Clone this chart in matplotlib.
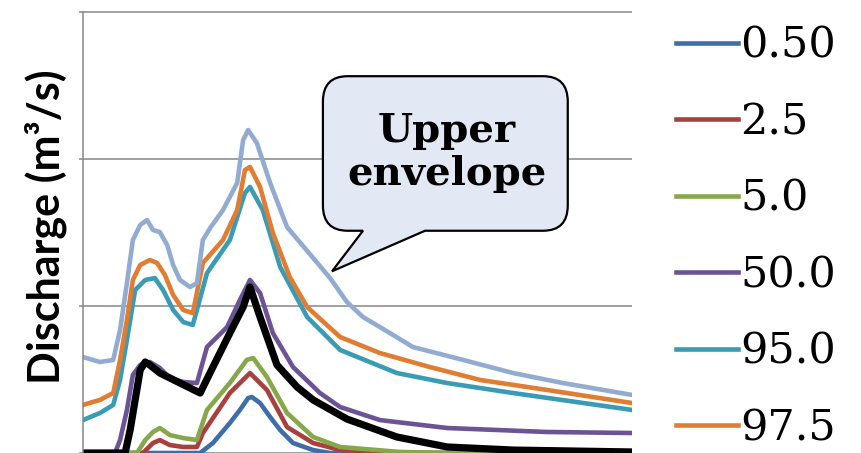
import matplotlib.pyplot as plt
from matplotlib.path import Path
from matplotlib.patches import PathPatch

# time (h) and discharge (m3/s) for each percentile of the ensemble
t_p005 = [0, 25.6, 28.4, 32.1, 34.3, 36.1, 36.9, 38.7, 40.9, 43.1, 45.9, 50.3, 54.0, 120]
q_p005 = [0, 0, 6.8, 20.4, 29.3, 37.4, 38.1, 34.0, 24.5, 15.6, 6.8, 2.0, 0, 0]

t_p025 = [0, 13.1, 15.3, 16.8, 19.0, 21.9, 24.9, 26.2, 32.1, 36.5, 40.2, 44.6, 50.3, 56.2, 64.9, 120]
q_p025 = [0, 0, 6.8, 8.8, 5.4, 4.1, 4.1, 13.6, 40.8, 54.4, 42.9, 17.7, 6.8, 2.0, 0, 0]

t_p050 = [0, 11.8, 13.6, 15.3, 16.8, 19.0, 21.9, 24.9, 27.1, 32.1, 35.8, 37.2, 40.2, 44.6, 50.3, 56.2, 69.3, 80.2, 120]
q_p050 = [0, 0, 8.8, 14.3, 17.0, 12.2, 10.2, 8.8, 29.3, 47.6, 63.3, 64.6, 51.7, 27.2, 10.9, 4.1, 0.7, 0, 0]

t_p500 = [0, 7.0, 8.1, 9.6, 10.9, 12.5, 14.6, 16.8, 19.0, 21.9, 24.9, 27.1, 31.5, 34.3, 36.5, 38.7,
          41.5, 45.9, 51.8, 56.2, 64.9, 79.6, 101.4, 120]
q_p500 = [0, 0, 8.8, 29.3, 53.1, 59.9, 61.9, 57.8, 51.0, 48.3, 47.6, 72.1, 85.7, 104.1, 117.7, 108.8,
          81.6, 58.5, 40.8, 31.3, 22.4, 17.0, 14.3, 13.6]

t_p950 = [0, 3.7, 6.6, 8.1, 9.6, 11.4, 13.6, 15.7, 17.5, 19.7, 21.9, 24.0, 27.1, 32.1, 35.4, 36.5,
          39.3, 43.1, 49.0, 56.2, 68.6, 79.6, 94.0, 120]
q_p950 = [22.4, 27.2, 32.7, 49.7, 76.9, 110.9, 117.7, 119.0, 110.9, 97.3, 89.1, 87.1, 122.4, 144.9, 176.9, 181.0,
          165.3, 126.5, 92.5, 70.1, 54.4, 47.6, 40.8, 29.3]

t_p975 = [0, 3.7, 6.6, 8.1, 9.6, 10.9, 12.5, 14.6, 16.2, 17.9, 19.7, 21.9, 24.0, 26.2, 30.6, 33.7, 35.4,
          36.5, 38.7, 41.5, 45.2, 49.0, 56.2, 64.9, 75.8, 86.8, 101.4, 120]
q_p975 = [32.7, 36.1, 40.8, 63.3, 90.5, 117.7, 127.9, 131.3, 129.3, 121.1, 107.5, 97.3, 95.2, 129.3, 144.9, 165.3, 192.5,
          194.6, 181.0, 149.7, 119.7, 99.3, 78.9, 68.0, 58.5, 49.7, 42.9, 34.0]

# upper envelope of the ensemble
t_env = [0, 3.7, 6.6, 8.1, 9.6, 10.9, 12.5, 14.0, 15.3, 16.8, 18.4, 19.7, 21.2, 23.4, 24.9, 26.2, 27.8,
         30.6, 33.7, 35.0, 36.1, 38.0, 40.9, 44.6, 50.3, 54.0, 57.7, 61.2, 64.9, 72.1, 83.1, 94.0, 104.9, 120]
q_env = [65.3, 61.9, 63.3, 83.7, 115.6, 144.9, 155.1, 158.5, 151.7, 150.3, 141.5, 127.9, 117.7, 112.9, 115.6, 144.9, 153.1,
         165.3, 183.7, 212.9, 219.7, 210.9, 183.7, 153.7, 132.7, 119.0, 102.7, 92.5, 85.7, 72.1, 63.3, 54.4, 47.6, 39.5]

# observed hydrograph
t_obs = [0, 9.2, 10.3, 12.5, 13.6, 14.6, 16.8, 21.2, 25.6, 28.4, 32.1, 35.0, 36.5, 38.7, 42.4, 46.8,
         50.3, 57.7, 68.6, 79.6, 94.0, 120]
q_obs = [0, 0, 15.6, 56.5, 61.9, 59.9, 54.4, 47.6, 40.8, 58.5, 81.6, 99.3, 112.9, 92.5, 59.9, 44.9,
         36.1, 23.1, 10.9, 4.1, 2.0, 0.7]

labels = ['0.50', '2.5', '5.0', '50.0', '95.0', '97.5']
colors = ['#3F6DAA', '#A8403E', '#86A84A', '#6B5396', '#3A9BB5', '#E07D33']
env_color = '#92ABD0'

fig = plt.figure(figsize=(8.61, 4.53), dpi=100)
ax = fig.add_axes([83 / 861, 0.0, 549 / 861, 445.4 / 453])

series = [(t_p005, q_p005), (t_p025, q_p025), (t_p050, q_p050), (t_p500, q_p500),
          (t_p950, q_p950), (t_p975, q_p975)]
handles = []
for (t, q), c, lab in zip(series, colors, labels):
    ln, = ax.plot(t, q, color=c, lw=3.3, solid_joinstyle='round', label=lab)
    handles.append(ln)
ax.plot(t_env, q_env, color=env_color, lw=3.3, solid_joinstyle='round')
ax.plot(t_obs, q_obs, color='black', lw=5.2, solid_joinstyle='round')

ax.set_xlim(0, 120)
ax.set_ylim(0, 303)
ax.set_yticks([0, 100, 200, 300])
ax.set_yticklabels([])
ax.set_xticks([])
ax.tick_params(axis='y', length=3, width=1.1, color='#868686', direction='out')
ax.grid(axis='y', color='#868686', lw=1.1)
ax.set_axisbelow(True)
for s in ['top', 'right', 'bottom']:
    ax.spines[s].set_visible(False)
ax.spines['left'].set_color('#868686')
ax.spines['left'].set_linewidth(1.1)
ax.spines['left'].set_bounds(0, 300)

fig.text(46 / 861, 0.50, 'Discharge (m³/s)', rotation=90, ha='center', va='center',
         fontsize=31, fontweight='bold', family='Lato')

# speech bubble pointing at the upper envelope (axes fraction coords)
x0, x1, y0, y1 = 0.437, 0.883, 0.499, 0.846
rx, ry = 0.045, 0.057
tail = [(0.623, y0), (0.4536, 0.408), (0.510, y0)]
verts = [(x0 + rx, y1), (x1 - rx, y1), (x1, y1), (x1, y1 - ry),
         (x1, y0 + ry), (x1, y0), (x1 - rx, y0)] + tail + [
        (x0 + rx, y0), (x0, y0), (x0, y0 + ry),
        (x0, y1 - ry), (x0, y1), (x0 + rx, y1), (x0 + rx, y1)]
codes = [Path.MOVETO, Path.LINETO, Path.CURVE3, Path.CURVE3,
         Path.LINETO, Path.CURVE3, Path.CURVE3,
         Path.LINETO, Path.LINETO, Path.LINETO,
         Path.LINETO, Path.CURVE3, Path.CURVE3,
         Path.LINETO, Path.CURVE3, Path.CURVE3, Path.CLOSEPOLY]
bubble = PathPatch(Path(verts, codes), transform=ax.transAxes, facecolor='#E3E9F4',
                   edgecolor='black', lw=1.6, zorder=5, clip_on=False)
ax.add_patch(bubble)
ax.text(0.663, 0.675, 'Upper\nenvelope', transform=ax.transAxes, ha='center', va='center',
        fontsize=29, fontweight='bold', family='DejaVu Serif', linespacing=1.15, zorder=6)

fig.legend(handles=handles, labels=labels, loc='upper left', bbox_to_anchor=(676 / 861, 1 - 25 / 453),
           frameon=False, prop={'family': 'DejaVu Serif', 'size': 31},
           handlelength=1.45, handletextpad=0.05, labelspacing=0.80, borderpad=0, borderaxespad=0)

fig.savefig('out.png', dpi=100)
